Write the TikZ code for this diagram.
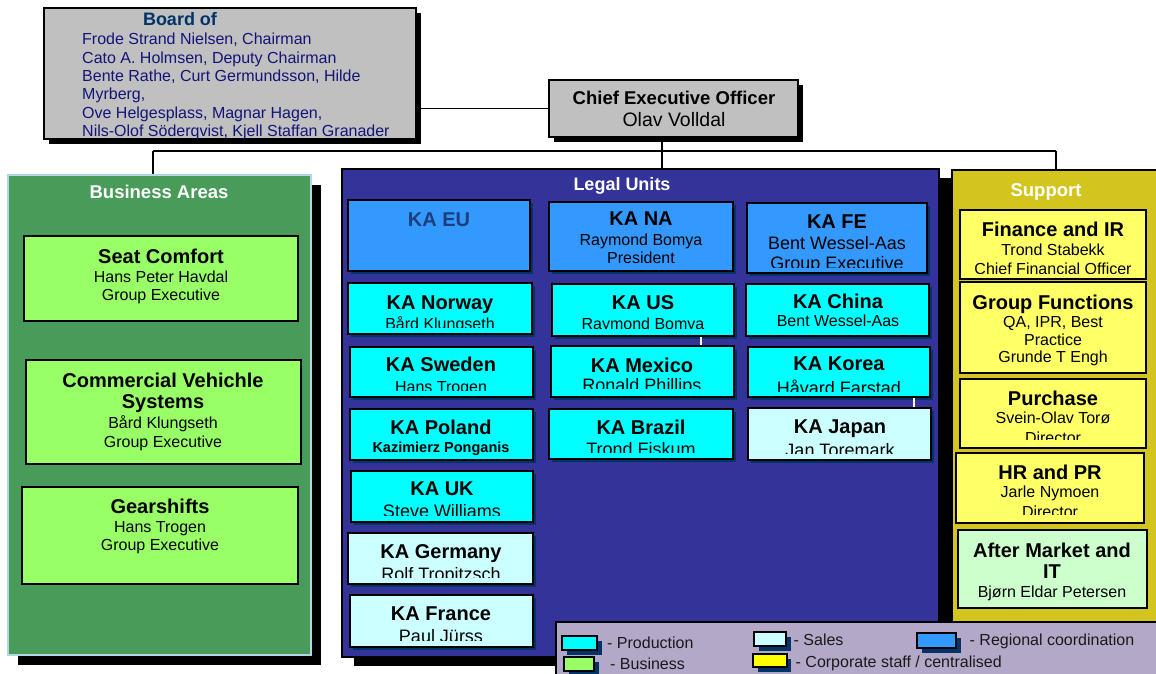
\documentclass[tikz,border=0pt]{standalone}
\usepackage{fontspec}
\setmainfont{Liberation Sans}
\usetikzlibrary{fit,shadows}
\definecolor{boardgray}{RGB}{192,192,192}
\definecolor{navytext}{RGB}{20,20,120}
\definecolor{boardtitle}{RGB}{0,51,102}
\definecolor{busgreen}{RGB}{72,155,88}
\definecolor{busborder}{RGB}{175,215,228}
\definecolor{boxgreen}{RGB}{153,255,102}
\definecolor{legalblue}{RGB}{51,51,153}
\definecolor{regblue}{RGB}{51,153,255}
\definecolor{prodcyan}{RGB}{0,255,255}
\definecolor{salescyan}{RGB}{204,255,255}
\definecolor{supyellow}{RGB}{211,197,30}
\definecolor{boxyellow}{RGB}{255,255,102}
\definecolor{pureyellow}{RGB}{255,255,0}
\definecolor{amgreen}{RGB}{204,255,204}
\definecolor{legendbg}{RGB}{180,168,200}
\definecolor{shadowblue}{RGB}{0,51,102}
\definecolor{eutext}{RGB}{28,62,122}
\newcommand\fz[1]{\fontsize{#1}{#1}\selectfont}
\begin{document}
\begin{tikzpicture}[x=1pt,y=-1pt,
  ubox/.style={rectangle, draw=black, line width=2pt, inner sep=0pt},
  shthree/.style={drop shadow={shadow xshift=3pt, shadow yshift=-3pt, fill=shadowblue, opacity=1}},
  shfour/.style={drop shadow={shadow xshift=4.5pt, shadow yshift=-4.5pt, fill=shadowblue, opacity=1}},
  shblack/.style={drop shadow={shadow xshift=5pt, shadow yshift=-5pt, fill=black, opacity=1}},
  prodbox/.style={ubox, fill=prodcyan, shthree},
  salesbox/.style={ubox, fill=salescyan, shthree},
  regbox/.style={ubox, fill=regblue, shthree},
  busbox/.style={ubox, fill=boxgreen},
  corpbox/.style={ubox, fill=boxyellow},
  ambox/.style={ubox, fill=amgreen},
  panel/.style={rectangle, inner sep=0pt, line width=1.5pt},
  ttl/.style={anchor=base, inner sep=0pt, font=\fz{20}\bfseries},
  nm/.style={anchor=base, inner sep=0pt, font=\fz{16}},
  nml/.style={anchor=base, inner sep=0pt, font=\fz{18}},
  bl/.style={anchor=base west, inner sep=0pt, font=\fz{16}, text=navytext},
  plabel/.style={anchor=base, inner sep=0pt, font=\fz{18.5}\bfseries, text=white},
  leg/.style={anchor=base west, inner sep=0pt, font=\fz{16}, text={rgb,255:red,25;green,25;blue,25}},
  conn/.style={draw=black, line width=1.5pt},
  wline/.style={draw=white, line width=2pt}
]
\useasboundingbox (0,0) rectangle (1156,674);
\fill[white] (0,0) rectangle (1156,674);

% ---------------- Board and CEO
\node[ubox, fill=boardgray, shblack, fit={(44,8) (416,139)}] (board) {};
\node[anchor=base, inner sep=0pt, font=\fz{18}\bfseries, text=boardtitle] (board-t) at (180,26) {Board of};
\begin{scope}
\clip (board.north west) rectangle ([yshift=1.5pt]board.south east);
\node[bl] (b1) at (82,45) {Frode Strand Nielsen, Chairman};
\node[bl] (b2) at (82,63.3) {Cato A. Holmsen, Deputy Chairman};
\node[bl] (b3) at (82,81.6) {Bente Rathe, Curt Germundsson, Hilde};
\node[bl] (b4) at (82,99.9) {Myrberg,};
\node[bl] (b5) at (82,118.2) {Ove Helgesplass, Magnar Hagen,};
\node[bl] (b6) at (82,136.5) {Nils-Olof Söderqvist, Kjell Staffan Granader};
\end{scope}

\node[ubox, fill=boardgray, shblack, fit={(549,80) (798,137)}] (ceo) {};
\node[anchor=base, inner sep=0pt, font=\fz{18.5}\bfseries] (ceo-t) at (674,105) {Chief Executive Officer};
\node[anchor=base, inner sep=0pt, font=\fz{19.5}] (ceo-n) at (674,127) {Olav Volldal};

% ---------------- Panels
\node[panel, fill=busgreen, draw=busborder, fit={(8,175) (311,655)},
  drop shadow={shadow xshift=10pt, shadow yshift=-10pt, fill=black, opacity=1}] (bus) {};
\node[panel, fill=legalblue, draw=black, fit={(342,169) (939,657)},
  drop shadow={shadow xshift=12pt, shadow yshift=-9pt, fill=black, opacity=1}] (legal) {};
\node[panel, fill=supyellow, draw=black, fit={(952,170) (1162,690)}] (sup) {};

\node[plabel] (bus-l) at (159,198) {Business Areas};
\node[plabel, font=\fz{18}\bfseries] (legal-l) at (622,190) {Legal Units};
\node[plabel] (sup-l) at (1046,196) {Support};

% ---------------- Connectors
\coordinate (jl) at (153,151);
\coordinate (jc) at (662,151);
\coordinate (jr) at (1056,151);
\draw[conn] (board.east |- ceo.west) -- (ceo.west);
\draw[conn] (ceo.south -| jc) -- (legal.north -| jc);
\draw[conn] (jl) -- (jr);
\draw[conn] (jl) -- (bus.north -| jl);
\draw[conn] (jr) -- (sup.north -| jr);

% ---------------- Business areas
\node[busbox, fit={(24,236) (298,321)}] (sc) {};
\node[ttl] (sc-t) at (161,263) {Seat Comfort};
\node[nm] (sc-n) at (161,282) {Hans Peter Havdal};
\node[nm] (sc-r) at (161,300) {Group Executive};

\node[busbox, fit={(26,360) (301,464)}] (cv) {};
\node[ttl] (cv-t) at (163,387) {Commercial Vehichle};
\node[ttl] (cv-u) at (163,408) {Systems};
\node[nm] (cv-n) at (163,428) {Bård Klungseth};
\node[nm] (cv-r) at (163,447) {Group Executive};

\node[busbox, fit={(22,487) (298,584)}] (gs) {};
\node[ttl] (gs-t) at (160,513) {Gearshifts};
\node[nm] (gs-n) at (160,532) {Hans Trogen};
\node[nm] (gs-r) at (160,550) {Group Executive};

% ---------------- Legal units, column 1
\node[regbox, fit={(348,200) (530,271)}] (eu) {};
\node[ttl, text=eutext] (eu-t) at (439,226) {KA EU};

\node[prodbox, fit={(348,283) (532,334)}] (nor) {};
\begin{scope}
\clip (nor.north west) rectangle ([yshift=8pt]nor.south east);
\node[ttl] (nor-t) at (440,309) {KA Norway};
\node[nm] (nor-n) at (440,329) {Bård Klungseth};
\end{scope}

\node[prodbox, fit={(350,347) (533,397)}] (swe) {};
\begin{scope}
\clip (swe.north west) rectangle ([yshift=8pt]swe.south east);
\node[ttl] (swe-t) at (441,371) {KA Sweden};
\node[nm] (swe-n) at (441,392.5) {Hans Trogen};
\end{scope}

\node[prodbox, fit={(350,409) (533,460)}] (pol) {};
\node[ttl] (pol-t) at (441,434) {KA Poland};
\node[anchor=base, inner sep=0pt, font=\fz{14.5}\bfseries] (pol-n) at (441,452) {Kazimierz Ponganis};

\node[prodbox, fit={(351,471) (533,522)}] (uk) {};
\begin{scope}
\clip (uk.north west) rectangle ([yshift=8pt]uk.south east);
\node[ttl] (uk-t) at (442,495) {KA UK};
\node[nml] (uk-n) at (442,517) {Steve Williams};
\end{scope}

\node[salesbox, fit={(348,533) (533,584)}] (ger) {};
\begin{scope}
\clip (ger.north west) rectangle ([yshift=7.5pt]ger.south east);
\node[ttl] (ger-t) at (441,558) {KA Germany};
\node[nml] (ger-n) at (441,580.5) {Rolf Tropitzsch};
\end{scope}

\node[salesbox, fit={(350,595) (533,647)}] (fra) {};
\begin{scope}
\clip (fra.north west) rectangle ([yshift=7.5pt]fra.south east);
\node[ttl] (fra-t) at (441,620) {KA France};
\node[nml] (fra-n) at (441,642.5) {Paul Jürss};
\end{scope}

% ---------------- Legal units, column 2
\node[regbox, fit={(549,202) (733,271)}] (na) {};
\node[ttl] (na-t) at (641,225) {KA NA};
\node[nm] (na-n) at (641,245) {Raymond Bomya};
\node[nm] (na-r) at (641,263) {President};

\node[prodbox, fit={(552,284) (734,336)}] (us) {};
\begin{scope}
\clip (us.north west) rectangle ([yshift=9pt]us.south east);
\node[ttl] (us-t) at (643,309) {KA US};
\node[nm] (us-n) at (643,329.5) {Raymond Bomya};
\end{scope}

\node[prodbox, fit={(551,346) (734,397)}] (mx) {};
\begin{scope}
\clip (mx.north west) rectangle ([yshift=9.5pt]mx.south east);
\node[ttl] (mx-t) at (642,372) {KA Mexico};
\node[nml] (mx-n) at (642,391.5) {Ronald Phillips};
\end{scope}

\node[prodbox, fit={(549,409) (733,459)}] (br) {};
\begin{scope}
\clip (br.north west) rectangle ([yshift=7.5pt]br.south east);
\node[ttl] (br-t) at (641,434) {KA Brazil};
\node[nml] (br-n) at (641,455) {Trond Fiskum};
\end{scope}

\draw[wline] ([xshift=58pt]us.south) -- ([xshift=58.5pt]mx.north);

% ---------------- Legal units, column 3
\node[regbox, fit={(747,203) (927,273)}] (fe) {};
\begin{scope}
\clip (fe.north west) rectangle ([yshift=7pt]fe.south east);
\node[ttl] (fe-t) at (837,228) {KA FE};
\node[nml] (fe-n) at (837,249.5) {Bent Wessel-Aas};
\node[nml] (fe-r) at (837,269.5) {Group Executive};
\end{scope}

\node[prodbox, fit={(746,284) (929,336)}] (cn) {};
\node[ttl] (cn-t) at (838,308) {KA China};
\node[nm] (cn-n) at (838,326) {Bent Wessel-Aas};

\node[prodbox, fit={(748,347) (930,397)}] (kr) {};
\begin{scope}
\clip (kr.north west) rectangle ([yshift=6.5pt]kr.south east);
\node[ttl] (kr-t) at (839,370) {KA Korea};
\node[nml] (kr-n) at (839,394) {Håvard Farstad};
\end{scope}

\node[salesbox, fit={(748,408) (931,460)}] (jp) {};
\begin{scope}
\clip (jp.north west) rectangle ([yshift=7.5pt]jp.south east);
\node[ttl] (jp-t) at (840,433) {KA Japan};
\node[nml] (jp-n) at (840,456.5) {Jan Toremark};
\end{scope}

\draw[wline] ([xshift=75pt]kr.south) -- ([xshift=74.5pt]jp.north);

% ---------------- Support
\node[corpbox, fit={(960,210) (1146,279)}] (fi) {};
\begin{scope}
\clip (fi.north west) rectangle ([yshift=6.5pt]fi.south east);
\node[ttl] (fi-t) at (1053,236) {Finance and IR};
\node[nm] (fi-n) at (1053,255) {Trond Stabekk};
\node[nm] (fi-r) at (1053,274) {Chief Financial Officer};
\end{scope}

\node[corpbox, fit={(960,282) (1146,373)}] (gf) {};
\node[ttl] (gf-t) at (1053,309) {Group Functions};
\node[nm] (gf-n) at (1053,327) {QA, IPR, Best};
\node[nm] (gf-m) at (1053,345) {Practice};
\node[nm] (gf-r) at (1053,362) {Grunde T Engh};

\node[corpbox, fit={(960,379) (1146,448)}] (pu) {};
\begin{scope}
\clip (pu.north west) rectangle ([yshift=10pt]pu.south east);
\node[ttl] (pu-t) at (1053,405) {Purchase};
\node[nm] (pu-n) at (1053,423) {Svein-Olav Torø};
\node[nm] (pu-r) at (1053,443) {Director};
\end{scope}

\node[corpbox, fit={(956,453) (1144,523)}] (hr) {};
\begin{scope}
\clip (hr.north west) rectangle ([yshift=9.5pt]hr.south east);
\node[ttl] (hr-t) at (1050,479) {HR and PR};
\node[nm] (hr-n) at (1050,497) {Jarle Nymoen};
\node[nm] (hr-r) at (1050,517.5) {Director};
\end{scope}

\node[ambox, fit={(958,530) (1147,608)}] (am) {};
\node[ttl] (am-t) at (1052,557) {After Market and};
\node[ttl] (am-u) at (1052,578) {IT};
\node[nm] (am-n) at (1052,597) {Bjørn Eldar Petersen};

% ---------------- Legend
\node[panel, fill=legendbg, draw=black, fit={(556,622) (1162,690)}] (legend) {};
\node[ubox, fill=prodcyan, shfour, fit={(562,636) (597,650)}] (sw1) {};
\node[leg] (sw1-l) at (607,648) {- Production};
\node[ubox, fill=boxgreen, shfour, fit={(564,657) (594,671)}] (sw2) {};
\node[leg] (sw2-l) at (610,669) {- Business};
\node[ubox, fill=salescyan, shfour, fit={(754,632) (786,646)}] (sw3) {};
\node[leg] (sw3-l) at (793.5,645) {- Sales};
\node[ubox, fill=pureyellow, shfour, fit={(753,654) (786.5,667)}] (sw4) {};
\node[leg] (sw4-l) at (795.5,667) {- Corporate staff / centralised};
\node[ubox, fill=regblue, shfour, fit={(917,633) (956,648)}] (sw5) {};
\node[leg] (sw5-l) at (969.5,645) {- Regional coordination};
\end{tikzpicture}
\end{document}
